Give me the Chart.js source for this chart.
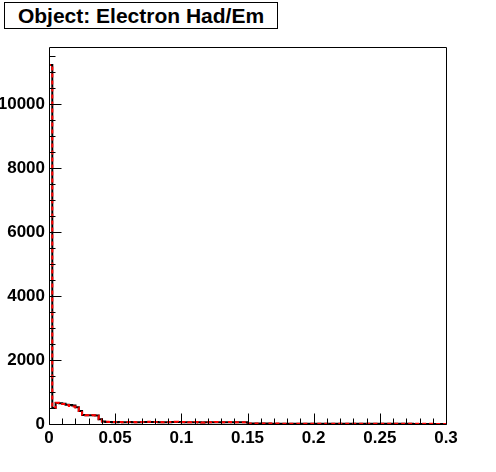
<!DOCTYPE html>
<html>
<head>
<meta charset="utf-8">
<script src="https://cdn.jsdelivr.net/npm/chart.js@4.4.0/dist/chart.umd.min.js"></script>
<style>
  body { margin: 0; background: #fff; }
  #wrap { position: relative; width: 496px; height: 472px; }
  #title {
    position: absolute; left: 4px; top: 2px; width: 272px; height: 25px;
    border: 1px solid #000; background: #fff;
    font: bold 21px "Liberation Sans", Arial, sans-serif;
    text-align: center; line-height: 26px; color: #000;
  }
</style>
</head>
<body>
<div id="wrap">
  <canvas id="mycanvas" width="496" height="472"></canvas>
  <div id="title">Object: Electron Had/Em</div>
</div>
<script>
// histogram: 120 bins of 0.0025 from 0 to 0.3
var binWidth = 0.0025;

var redCounts = [
  11220, 500, 665, 655, 625, 595, 560, 545, 515, 405,
  280, 275, 270, 275, 265, 150, 80, 70, 65, 62,
  60, 62, 58, 60, 62, 60, 58, 60, 62, 64,
  72, 66, 62, 60, 58, 62, 60, 64, 68, 62,
  60, 58, 56, 60, 62, 48, 44, 50, 58, 60,
  62, 60, 58, 56, 60, 58, 56, 55, 56, 54,
  16, 15, 15, 14, 14, 13, 13, 12, 12, 12,
  11, 11, 11, 10, 10, 10, 10, 9, 9, 9,
  9, 8, 8, 8, 8, 8, 7, 7, 7, 7,
  7, 7, 6, 6, 6, 6, 6, 6, 6, 5,
  5, 5, 5, 5, 5, 5, 5, 4, 4, 4,
  4, 4, 4, 4, 4, 4, 3, 3, 3, 3
];

var blackCounts = [
  11220, 500, 660, 650, 630, 600, 590, 575, 520, 405,
  280, 270, 270, 270, 265, 150, 75, 65, 60, 58,
  58, 60, 56, 58, 60, 58, 56, 58, 60, 60,
  66, 62, 60, 58, 56, 58, 58, 60, 62, 60,
  58, 56, 56, 58, 58, 52, 50, 52, 56, 58,
  58, 58, 56, 54, 58, 56, 54, 54, 54, 52,
  14, 14, 13, 13, 12, 12, 12, 11, 11, 11,
  10, 10, 10, 9, 9, 9, 9, 8, 8, 8,
  8, 8, 7, 7, 7, 7, 7, 6, 6, 6,
  6, 6, 6, 6, 5, 5, 5, 5, 5, 5,
  5, 4, 4, 4, 4, 4, 4, 4, 4, 4,
  3, 3, 3, 3, 3, 3, 3, 3, 3, 3
];

var xTickValues = [0, 0.05, 0.1, 0.15, 0.2, 0.25, 0.3];
var xTickLabels = ['0', '0.05', '0.1', '0.15', '0.2', '0.25', '0.3'];
var yTickValues = [0, 2000, 4000, 6000, 8000, 10000];
var yTickLabels = ['0', '2000', '4000', '6000', '8000', '10000'];

var xMin = 0, xMax = 0.3, yMin = 0, yMax = 11780;

// bin edges as points; 'before' stepping draws each bin's level up to its right edge
function stepPoints(counts) {
  var pts = [{ x: 0, y: 0 }];
  for (var i = 0; i < counts.length; i++) {
    pts.push({ x: i * binWidth, y: counts[i] });
  }
  pts.push({ x: counts.length * binWidth, y: counts[counts.length - 1] });
  return pts;
}

// ROOT style frame with inward ticks
var frameTicks = {
  id: 'frameTicks',
  afterDraw: function(chart) {
    var ctx = chart.ctx, a = chart.chartArea;
    var xs = chart.scales.x, ys = chart.scales.y;
    ctx.save();
    ctx.strokeStyle = '#000';
    ctx.lineWidth = 1;
    ctx.beginPath();
    ctx.rect(Math.round(a.left) + 0.5, Math.round(a.top) + 0.5,
             Math.round(a.right - a.left), Math.round(a.bottom - a.top));
    ctx.stroke();
    ctx.beginPath();
    var b = Math.round(a.bottom) + 0.5;
    for (var k = 0; k <= 30; k++) {
      var px = Math.round(xs.getPixelForValue(k * 0.01)) + 0.5;
      var len = (k % 5 === 0) ? 11 : 6;
      ctx.moveTo(px, b);
      ctx.lineTo(px, b - len);
    }
    var l = Math.round(a.left) + 0.5;
    for (var v = 0; v <= yMax; v += 500) {
      var py = Math.round(ys.getPixelForValue(v)) + 0.5;
      var ylen = (v % 2000 === 0) ? 12 : 6;
      ctx.moveTo(l, py);
      ctx.lineTo(l + ylen, py);
    }
    ctx.stroke();
    ctx.restore();
  }
};

var chartdata = {
  datasets: [{
    label: 'black',
    data: stepPoints(blackCounts),
    borderColor: '#000',
    borderWidth: 2,
    stepped: 'before',
    pointRadius: 0,
    fill: false,
    order: 2
  }, {
    label: 'red',
    data: stepPoints(redCounts),
    borderColor: '#ff0000',
    borderWidth: 2,
    borderDash: [4, 3],
    stepped: 'before',
    pointRadius: 0,
    fill: false,
    order: 1
  }]
};

var tickFont = { family: '"Liberation Sans", Arial, sans-serif', size: 17, weight: 'bold' };

var ctx = document.getElementById('mycanvas');
new Chart(ctx, {
  type: 'line',
  data: chartdata,
  plugins: [frameTicks],
  options: {
    responsive: false,
    animation: false,
    layout: { padding: { left: 0, right: 50, top: 47, bottom: 0 } },
    plugins: { legend: { display: false }, tooltip: { enabled: false } },
    scales: {
      x: {
        type: 'linear', min: xMin, max: xMax,
        grid: { display: false, drawTicks: false },
        border: { display: false },
        afterFit: function(s) { s.height = 48; },
        afterBuildTicks: function(s) {
          s.ticks = xTickValues.map(function(v) { return { value: v }; });
        },
        ticks: {
          autoSkip: false, maxRotation: 0, padding: 4, color: '#000', font: tickFont,
          callback: function(v, i) { return xTickLabels[i]; }
        }
      },
      y: {
        type: 'linear', min: yMin, max: yMax,
        grid: { display: false, drawTicks: false },
        border: { display: false },
        afterFit: function(s) { s.width = 49; },
        afterBuildTicks: function(s) {
          s.ticks = yTickValues.map(function(v) { return { value: v }; });
        },
        ticks: {
          autoSkip: false, padding: 4, color: '#000', font: tickFont,
          callback: function(v, i) { return yTickLabels[i]; }
        }
      }
    }
  }
});
</script>
</body>
</html>
